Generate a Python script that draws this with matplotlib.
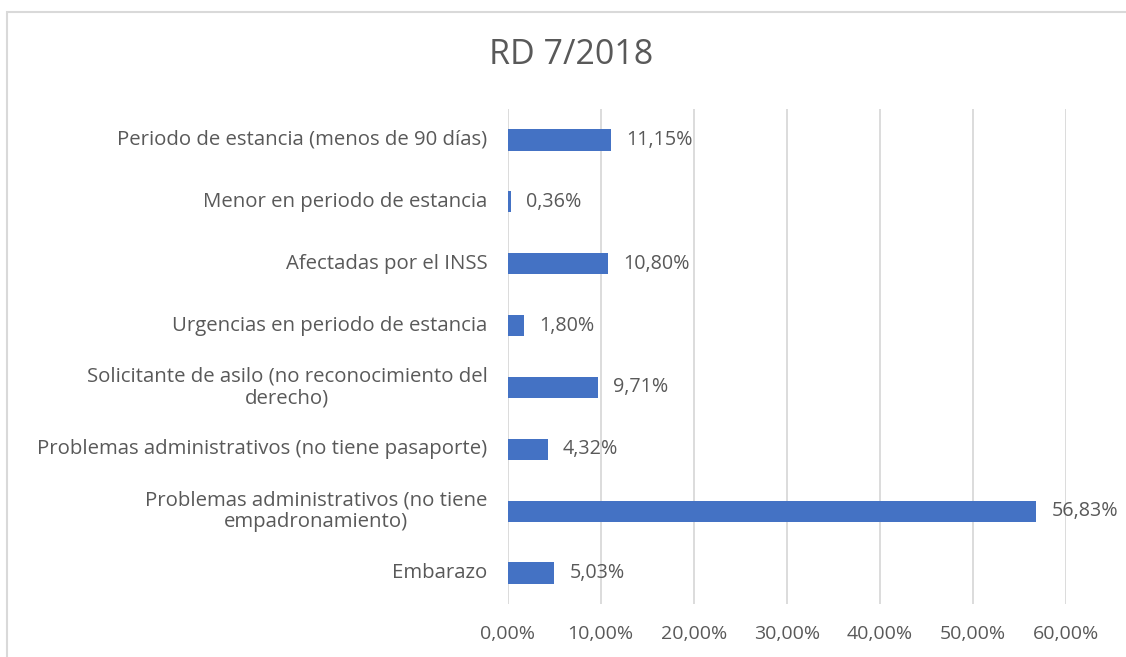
import matplotlib.pyplot as plt
from matplotlib.patches import Rectangle
from matplotlib.ticker import FuncFormatter

categories = [
    'Periodo de estancia (menos de 90 días)',
    'Menor en periodo de estancia',
    'Afectadas por el INSS',
    'Urgencias en periodo de estancia',
    'Solicitante de asilo (no reconocimiento del\nderecho)',
    'Problemas administrativos (no tiene pasaporte)',
    'Problemas administrativos (no tiene\nempadronamiento)',
    'Embarazo',
]
values = [0.1115, 0.0036, 0.1080, 0.0180, 0.0971, 0.0432, 0.5683, 0.0503]
ticks = [0, 0.1, 0.2, 0.3, 0.4, 0.5, 0.6]

text_col = '#595959'
bar_col = '#4472C4'
grid_col = '#D9D9D9'
font = 'Open Sans'

def pct(v, pos=None):
    return ('%.2f%%' % (v * 100)).replace('.', ',')

fig = plt.figure(figsize=(11.26, 6.57), dpi=100)
ax = fig.add_axes([507.5 / 1126, 1 - 604 / 657, (1066 - 507.5) / 1126, 495 / 657])

y = list(range(len(categories)))
ax.barh(y, values, height=0.345, color=bar_col, zorder=3)
ax.set_ylim(len(categories) - 0.5, -0.5)
ax.set_xlim(0, 0.6)
ax.set_xticks(ticks)
ax.xaxis.set_major_formatter(FuncFormatter(pct))
ax.set_yticks(y)
ax.set_yticklabels([])
ax.tick_params(axis='y', length=0)
ax.tick_params(axis='x', length=0, pad=15, labelsize=14, labelcolor=text_col)
for lab in ax.get_xticklabels():
    lab.set_family(font)
ax.grid(axis='x', color=grid_col, linewidth=1.3, zorder=0)
for s in ax.spines.values():
    s.set_visible(False)

# category labels, right-aligned block, centred lines
for yi, c in zip(y, categories):
    ax.text(-20 / 558.5, yi, c, transform=ax.get_yaxis_transform(),
            ha='right', va='center', multialignment='center', linespacing=1.15,
            fontsize=14.7, color=text_col, family=font)

for yi, v in zip(y, values):
    ax.annotate(pct(v), (v, yi), xytext=(11, 0), textcoords='offset points',
                va='center', ha='left', fontsize=14.2, color=text_col, family=font)

fig.text(571 / 1126, 1 - 55 / 657, 'RD 7/2018', ha='center', va='center',
         fontsize=24.5, color=text_col, family=font)

fig.patches.append(Rectangle((7 / 1126, -0.1), 1.2, 1 - 12 / 657 + 0.1,
                             transform=fig.transFigure, fill=False,
                             edgecolor=grid_col, linewidth=1.5))

fig.savefig('out.png', dpi=100)
